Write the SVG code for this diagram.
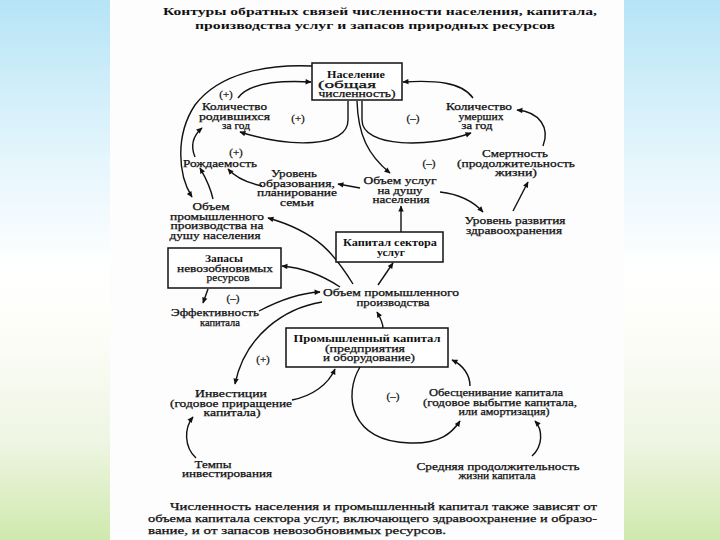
<svg xmlns="http://www.w3.org/2000/svg" width="720" height="540" viewBox="0 0 720 540">
<defs>
<linearGradient id="bg" x1="0" y1="0" x2="0" y2="1">
<stop offset="0" stop-color="#b6e4f6"/>
<stop offset="0.3" stop-color="#e6f6fc"/>
<stop offset="0.5" stop-color="#ffffff"/>
<stop offset="0.62" stop-color="#fdfdf8"/>
<stop offset="0.82" stop-color="#eef5e2"/>
<stop offset="1" stop-color="#cfe9ad"/>
</linearGradient>
<marker id="ah" viewBox="0 0 10 10" refX="9" refY="5" markerWidth="8" markerHeight="6" markerUnits="userSpaceOnUse" orient="auto">
<path d="M0,0.5 L10,5 L0,9.5 z" fill="#111"/>
</marker>
<style>
text{font-family:"Liberation Serif","DejaVu Serif",serif;font-size:10px;fill:#111;stroke:#111;stroke-width:0.25;text-anchor:middle}
.b{font-weight:bold;stroke-width:0}
.p{font-size:11px}
.l{text-anchor:start}
.box{fill:#fff;stroke:#111;stroke-width:1.5}
.c path{fill:none;stroke:#111;stroke-width:1.4;marker-end:url(#ah)}
</style>
</defs>
<rect x="0" y="0" width="720" height="540" fill="url(#bg)"/>
<rect x="110" y="0" width="514" height="540" fill="#fdfdfd"/>

<g id="title">
<text class="b" x="380" y="14.5" font-size="12" textLength="434" lengthAdjust="spacingAndGlyphs">Контуры обратных связей численности населения, капитала,</text>
<text class="b" x="375" y="28.5" font-size="12" textLength="360" lengthAdjust="spacingAndGlyphs">производства услуг и запасов природных ресурсов</text>
</g>

<g class="c" id="connectors">
<path d="M312,66 C270,64 220,72 195,105 C175,135 178,175 192,197"/>
<path d="M238,98 C248,84 275,80 311,82"/>
<path d="M348,101 L348,120 C348,148 290,148 240,132"/>
<path d="M357,101 C358,135 368,155 390,173"/>
<path d="M362,101 L362,120 C362,148 430,148 471,133"/>
<path d="M473,98 C462,82 435,80 403,82"/>
<path d="M543,146 C550,128 540,112 517,110"/>
<path d="M513,211 L528,182"/>
<path d="M440,192 C458,194 472,200 483,212"/>
<path d="M360,188 L338,184"/>
<path d="M262,186 C248,183 236,178 228,169"/>
<path d="M195,157 C190,145 194,135 202,128"/>
<path d="M213,199 C210,185 204,175 200,168"/>
<path d="M401,232 L401,206"/>
<path d="M353,284 C335,255 318,232 268,218"/>
<path d="M340,287 C325,277 305,268 282,266"/>
<path d="M378,285 L393,263"/>
<path d="M208,289 L203,303"/>
<path d="M259,311 C280,300 300,293 320,292"/>
<path d="M383,328 C383,323 381,319 377,312"/>
<path d="M322,302 C285,308 245,335 235,384"/>
<path d="M292,400 C312,396 328,385 335,369"/>
<path d="M196,458 C184,447 184,428 193,417"/>
<path d="M360,367 C343,395 350,442 410,443 C440,444 452,433 460,421"/>
<path d="M470,386 C470,375 463,365 452,360"/>
<path d="M532,456 C543,446 543,430 535,421"/>
</g>

<g id="naselenie">
<rect class="box" x="312" y="63" width="90" height="37"/>
<text class="b" x="356" y="77.5" textLength="58" lengthAdjust="spacingAndGlyphs">Население</text>
<text x="347" y="87.5" textLength="58" lengthAdjust="spacingAndGlyphs">(общая</text>
<text x="357" y="97" textLength="77" lengthAdjust="spacingAndGlyphs">численность)</text>
</g>

<g id="rodivshihsya">
<text x="234.5" y="110" textLength="65" lengthAdjust="spacingAndGlyphs">Количество</text>
<text x="234.5" y="119.5" textLength="71" lengthAdjust="spacingAndGlyphs">родившихся</text>
<text x="236" y="129" textLength="28" lengthAdjust="spacingAndGlyphs">за год</text>
</g>

<g id="umershih">
<text x="479" y="110" textLength="66" lengthAdjust="spacingAndGlyphs">Количество</text>
<text x="481" y="119.5" textLength="45" lengthAdjust="spacingAndGlyphs">умерших</text>
<text x="477" y="129" textLength="31" lengthAdjust="spacingAndGlyphs">за год</text>
</g>

<g id="rozhdaemost">
<text x="220" y="166.5" textLength="74" lengthAdjust="spacingAndGlyphs">Рождаемость</text>
</g>

<g id="smertnost">
<text x="515" y="157" textLength="66" lengthAdjust="spacingAndGlyphs">Смертность</text>
<text x="516" y="166.5" textLength="118" lengthAdjust="spacingAndGlyphs">(продолжительность</text>
<text x="516" y="176" textLength="42" lengthAdjust="spacingAndGlyphs">жизни)</text>
</g>

<g id="obrazovanie">
<text x="294" y="177" textLength="46" lengthAdjust="spacingAndGlyphs">Уровень</text>
<text x="297" y="186.5" textLength="76" lengthAdjust="spacingAndGlyphs">образования,</text>
<text x="297" y="196" textLength="80" lengthAdjust="spacingAndGlyphs">планирование</text>
<text x="297" y="205.5" textLength="34" lengthAdjust="spacingAndGlyphs">семьи</text>
</g>

<g id="uslugi-na-dushu">
<text x="400" y="184" textLength="73" lengthAdjust="spacingAndGlyphs">Объем услуг</text>
<text x="400" y="193.5" textLength="45" lengthAdjust="spacingAndGlyphs">на душу</text>
<text x="401" y="203" textLength="57" lengthAdjust="spacingAndGlyphs">населения</text>
</g>

<g id="prom-na-dushu">
<text x="211" y="210" textLength="37" lengthAdjust="spacingAndGlyphs">Объем</text>
<text x="217" y="219.5" textLength="94" lengthAdjust="spacingAndGlyphs">промышленного</text>
<text x="217" y="229" textLength="93" lengthAdjust="spacingAndGlyphs">производства на</text>
<text x="215" y="238.5" textLength="91" lengthAdjust="spacingAndGlyphs">душу населения</text>
</g>

<g id="zdravoohranenie">
<text x="515" y="224" textLength="101" lengthAdjust="spacingAndGlyphs">Уровень развития</text>
<text x="514" y="233.5" textLength="96" lengthAdjust="spacingAndGlyphs">здравоохранения</text>
</g>

<g id="kapital-uslug">
<rect class="box" x="336" y="232" width="107" height="30"/>
<text class="b" x="390" y="245.5" textLength="94" lengthAdjust="spacingAndGlyphs">Капитал сектора</text>
<text class="b" x="391" y="255.5" textLength="28" lengthAdjust="spacingAndGlyphs">услуг</text>
</g>

<g id="zapasy">
<rect class="box" x="168" y="248" width="113" height="40"/>
<text class="b" x="224" y="262" textLength="38" lengthAdjust="spacingAndGlyphs">Запасы</text>
<text x="225" y="271.5" textLength="96" lengthAdjust="spacingAndGlyphs">невозобновимых</text>
<text x="228" y="281" textLength="43" lengthAdjust="spacingAndGlyphs">ресурсов</text>
</g>

<g id="prom-proizvodstvo">
<text x="391" y="295.5" textLength="136" lengthAdjust="spacingAndGlyphs">Объем промышленного</text>
<text x="393" y="305.5" textLength="73" lengthAdjust="spacingAndGlyphs">производства</text>
</g>

<g id="effektivnost">
<text x="215" y="315.5" textLength="88" lengthAdjust="spacingAndGlyphs">Эффективность</text>
<text x="220" y="325.5" textLength="40" lengthAdjust="spacingAndGlyphs">капитала</text>
</g>

<g id="prom-kapital">
<rect class="box" x="286" y="328" width="162" height="39"/>
<text class="b" x="367" y="342" textLength="147" lengthAdjust="spacingAndGlyphs">Промышленный капитал</text>
<text x="365" y="351.5" textLength="80" lengthAdjust="spacingAndGlyphs">(предприятия</text>
<text x="369" y="361" textLength="92" lengthAdjust="spacingAndGlyphs">и оборудование)</text>
</g>

<g id="investicii">
<text x="231" y="397" textLength="72" lengthAdjust="spacingAndGlyphs">Инвестиции</text>
<text x="231" y="406.5" textLength="122" lengthAdjust="spacingAndGlyphs">(годовое приращение</text>
<text x="232" y="416" textLength="57" lengthAdjust="spacingAndGlyphs">капитала)</text>
</g>

<g id="tempy">
<text x="213" y="467.5" textLength="37" lengthAdjust="spacingAndGlyphs">Темпы</text>
<text x="227" y="477" textLength="90" lengthAdjust="spacingAndGlyphs">инвестирования</text>
</g>

<g id="obescenivanie">
<text x="496" y="396" textLength="134" lengthAdjust="spacingAndGlyphs">Обесценивание капитала</text>
<text x="500" y="405.5" textLength="154" lengthAdjust="spacingAndGlyphs">(годовое выбытие капитала,</text>
<text x="504" y="415" textLength="91" lengthAdjust="spacingAndGlyphs">или амортизация)</text>
</g>

<g id="srednyaya">
<text x="498" y="469.5" textLength="163" lengthAdjust="spacingAndGlyphs">Средняя продолжительность</text>
<text x="497" y="479" textLength="77" lengthAdjust="spacingAndGlyphs">жизни капитала</text>
</g>

<g id="polarity">
<text class="p" x="226" y="97.5">(+)</text>
<text class="p" x="298" y="121.5">(+)</text>
<text class="p" x="413" y="121.5">(–)</text>
<text class="p" x="236" y="155.5">(+)</text>
<text class="p" x="429" y="166.5">(–)</text>
<text class="p" x="233" y="301.5">(–)</text>
<text class="p" x="263" y="362.5">(+)</text>
<text class="p" x="393" y="399.5">(–)</text>
</g>

<g id="caption">
<text class="l" x="170" y="510" font-size="11" textLength="427" lengthAdjust="spacingAndGlyphs">Численность населения и промышленный капитал также зависят от</text>
<text class="l" x="148" y="522" font-size="11" textLength="449" lengthAdjust="spacingAndGlyphs">объема капитала сектора услуг, включающего здравоохранение и образо-</text>
<text class="l" x="148" y="534" font-size="11" textLength="298" lengthAdjust="spacingAndGlyphs">вание, и от запасов невозобновимых ресурсов.</text>
</g>
</svg>
